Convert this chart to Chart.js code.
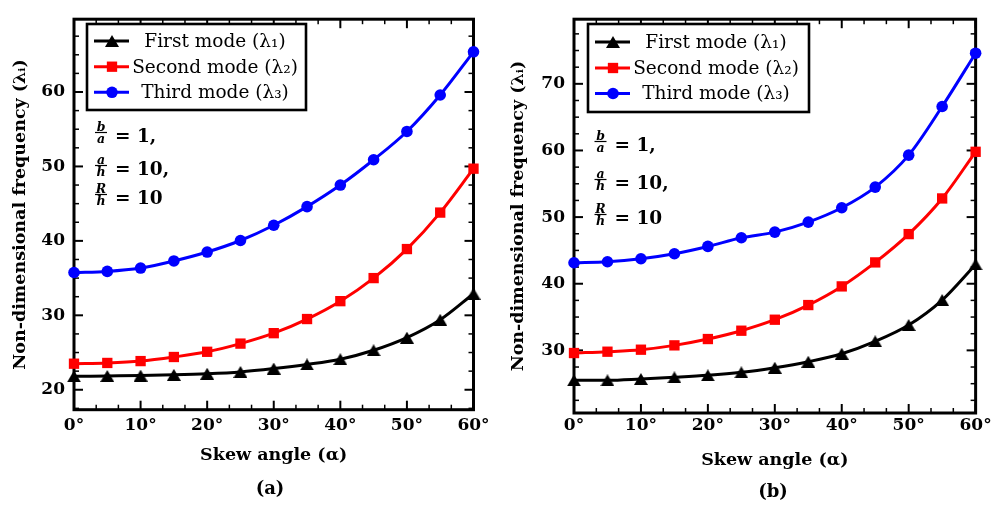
<!DOCTYPE html>
<html>
<head>
<meta charset="utf-8">
<script src="https://cdn.jsdelivr.net/npm/chart.js@4.4.1/dist/chart.umd.min.js"></script>
<style>
  body { margin: 0; background: #fff; width: 994px; height: 505px; overflow: hidden; position: relative; }
  canvas { position: absolute; top: 0; }
  #chartA { left: 0; }
  #chartB { left: 500px; }
</style>
</head>
<body>
<canvas id="chartA" width="500" height="505"></canvas>
<canvas id="chartB" width="494" height="505"></canvas>
<script>
// skew angles (degrees)
const angles = [0, 5, 10, 15, 20, 25, 30, 35, 40, 45, 50, 55, 60];

// panel (a)
const firstA  = [21.8, 21.85, 21.9, 22.0, 22.15, 22.4, 22.85, 23.4, 24.1, 25.3, 27.0, 29.4, 32.9];
const secondA = [23.5, 23.6, 23.85, 24.4, 25.1, 26.2, 27.6, 29.5, 31.9, 35.0, 38.9, 43.8, 49.7];
const thirdA  = [35.75, 35.9, 36.35, 37.3, 38.5, 40.05, 42.1, 44.6, 47.5, 50.9, 54.7, 59.6, 65.4];

// panel (b)
const firstB  = [25.5, 25.5, 25.7, 25.95, 26.25, 26.7, 27.4, 28.3, 29.5, 31.35, 33.8, 37.55, 42.9];
const secondB = [29.6, 29.8, 30.1, 30.75, 31.7, 32.95, 34.6, 36.8, 39.6, 43.2, 47.45, 52.8, 59.8];
const thirdB  = [43.15, 43.3, 43.75, 44.5, 45.6, 46.9, 47.75, 49.25, 51.4, 54.5, 59.3, 66.6, 74.6];

const modeNames = ['First mode (λ₁)', 'Second mode (λ₂)', 'Third mode (λ₃)'];
const ratioLabels = [['b', 'a', '= 1,'], ['a', 'h', '= 10,'], ['R', 'h', '= 10']];

const SERIF = '"DejaVu Serif", serif';

// matplotlib style triangle, centred on its bounding box
function makeTriangle(w, h) {
  const c = document.createElement('canvas');
  c.width = w; c.height = h;
  const g = c.getContext('2d');
  g.fillStyle = '#000';
  g.beginPath();
  g.moveTo(w / 2, 0);
  g.lineTo(w, h);
  g.lineTo(0, h);
  g.closePath();
  g.fill();
  return c;
}
const triangle = makeTriangle(14, 12);

const styles = [
  { color: '#000000', pointStyle: triangle, radius: 6 },
  { color: '#ff0000', pointStyle: 'rect', radius: 7.3 },
  { color: '#0000ff', pointStyle: 'circle', radius: 5.8 }
];

function makeDataset(i, values) {
  return {
    label: modeNames[i],
    data: angles.map((a, k) => ({ x: a, y: values[k] })),
    borderColor: styles[i].color,
    backgroundColor: styles[i].color,
    borderWidth: 3,
    pointStyle: styles[i].pointStyle,
    pointRadius: styles[i].radius,
    pointBorderWidth: 0,
    cubicInterpolationMode: 'monotone',
    clip: false
  };
}

// frame and inward ticks on all four sides
const framePlugin = {
  id: 'frame',
  beforeDatasetsDraw(chart) {
    const ctx = chart.ctx;
    const { left, right, top, bottom } = chart.chartArea;
    const xs = chart.scales.x, ys = chart.scales.y;
    ctx.save();
    ctx.strokeStyle = '#000';
    const seg = (x1, y1, x2, y2, w) => {
      ctx.lineWidth = w;
      ctx.beginPath(); ctx.moveTo(x1, y1); ctx.lineTo(x2, y2); ctx.stroke();
    };
    for (let v = Math.ceil(ys.min / 2.5) * 2.5; v <= ys.max; v += 2.5) {
      const major = Math.abs(v % 10) < 1e-6;
      const len = major ? 9 : 5;
      const py = ys.getPixelForValue(v);
      seg(left, py, left + len, py, major ? 2 : 1.5);
      seg(right, py, right - len, py, major ? 2 : 1.5);
    }
    for (let i = 0; i <= 18; i++) {
      const major = i % 3 === 0;
      const len = major ? 9 : 5;
      const px = xs.getPixelForValue(i * 10 / 3);
      seg(px, bottom, px, bottom - len, major ? 2 : 1.5);
      seg(px, top, px, top + len, major ? 2 : 1.5);
    }
    ctx.lineWidth = 3;
    ctx.strokeRect(left, top, right - left, bottom - top);
    ctx.restore();
  },
  afterDatasetsDraw(chart, args, opts) {
    const ctx = chart.ctx;
    const lg = opts.legend;
    ctx.save();
    // legend box
    ctx.fillStyle = '#fff';
    ctx.fillRect(lg.left, lg.top, lg.width, lg.height);
    ctx.strokeStyle = '#000';
    ctx.lineWidth = 2.6;
    ctx.strokeRect(lg.left, lg.top, lg.width, lg.height);
    chart.data.datasets.forEach((ds, i) => {
      const y = lg.rows[i];
      ctx.strokeStyle = ds.borderColor;
      ctx.lineWidth = 3;
      ctx.beginPath();
      ctx.moveTo(lg.left + 7, y);
      ctx.lineTo(lg.left + 42, y);
      ctx.stroke();
      ctx.fillStyle = ds.backgroundColor;
      Chart.helpers.drawPoint(ctx, { pointStyle: ds.pointStyle, radius: ds.pointRadius, rotation: 0, borderWidth: 0 }, lg.left + 25, y);
      ctx.fillStyle = '#000';
      ctx.font = '18.5px ' + SERIF;
      ctx.textAlign = 'center';
      ctx.textBaseline = 'middle';
      ctx.fillText(ds.label, lg.left + 128, y + 1);
    });
    // parameter ratios
    ratioLabels.forEach((r, i) => {
      const y = opts.ratios.rows[i];
      const fx = opts.ratios.x;
      ctx.fillStyle = '#000';
      ctx.strokeStyle = '#000';
      ctx.font = 'italic bold 12.5px ' + SERIF;
      ctx.textAlign = 'center';
      ctx.textBaseline = 'alphabetic';
      const bar = y - 2.5;
      ctx.fillText(r[0], fx, bar - 2);
      ctx.fillText(r[1], fx, bar + 10);
      ctx.lineWidth = 1.2;
      ctx.beginPath();
      ctx.moveTo(fx - 6, bar);
      ctx.lineTo(fx + 6, bar);
      ctx.stroke();
      ctx.font = 'bold 18.5px ' + SERIF;
      ctx.textAlign = 'left';
      ctx.fillText(r[2], fx + 14, y + 6.5);
    });
    ctx.restore();
  },
  afterDraw(chart, args, opts) {
    const ctx = chart.ctx;
    ctx.save();
    ctx.fillStyle = '#000';
    ctx.font = 'bold 18px ' + SERIF;
    ctx.textAlign = 'center';
    ctx.textBaseline = 'middle';
    ctx.fillText(opts.caption.text, opts.caption.x, opts.caption.y);
    ctx.restore();
  }
};

function makeChart(id, values, p) {
  return new Chart(document.getElementById(id), {
    type: 'line',
    data: {
      datasets: values.map((v, i) => makeDataset(i, v))
    },
    options: {
      responsive: false,
      animation: false,
      events: [],
      layout: { padding: { left: 0, top: p.top, right: p.right, bottom: 0 } },
      scales: {
        x: {
          type: 'linear',
          min: 0,
          max: 60,
          grid: { display: false, drawTicks: false },
          border: { display: false },
          afterFit: s => { s.height = p.xHeight; },
          ticks: {
            stepSize: 10,
            padding: p.xPad,
            color: '#000',
            font: { family: SERIF, size: 17, weight: 'bold' },
            callback: v => v + '°'
          },
          title: {
            display: true,
            text: 'Skew angle (α)',
            color: '#000',
            font: { family: SERIF, size: 17.5, weight: 'bold' },
            padding: { top: 0, bottom: p.xTitlePad }
          }
        },
        y: {
          min: p.yMin,
          max: p.yMax,
          grid: { display: false, drawTicks: false },
          border: { display: false },
          afterFit: s => { s.width = 74; },
          ticks: {
            stepSize: 10,
            includeBounds: false,
            padding: 9,
            color: '#000',
            font: { family: SERIF, size: 17, weight: 'bold' }
          },
          title: {
            display: true,
            text: 'Non-dimensional frequency (λᵢ)',
            color: '#000',
            font: { family: SERIF, size: 17.5, weight: 'bold' },
            padding: { top: p.yTitlePad, bottom: 0 }
          }
        }
      },
      plugins: {
        legend: { display: false },
        tooltip: { enabled: false },
        frame: {
          legend: p.legend,
          ratios: p.ratios,
          caption: p.caption
        }
      }
    },
    plugins: [framePlugin]
  });
}

makeChart('chartA', [firstA, secondA, thirdA], {
  top: 10.7, right: 26.5, xHeight: 95.3, xPad: 5.6, xTitlePad: 39.5, yTitlePad: 9.5,
  yMin: 17.32, yMax: 69.78,
  legend: { left: 87, top: 24, width: 219, height: 86, rows: [41, 66.7, 92.3] },
  ratios: { x: 101, rows: [135, 168, 197] },
  caption: { text: '(a)', x: 270, y: 489 }
});

makeChart('chartB', [firstB, secondB, thirdB], {
  top: 10.7, right: 15.5, xHeight: 92, xPad: 2.3, xTitlePad: 34.5, yTitlePad: 7.5,
  yMin: 20.6, yMax: 79.7,
  legend: { left: 88, top: 24, width: 221, height: 88, rows: [42, 68, 93.5] },
  ratios: { x: 100.5, rows: [144, 182, 217] },
  caption: { text: '(b)', x: 273, y: 492 }
});
</script>
</body>
</html>
